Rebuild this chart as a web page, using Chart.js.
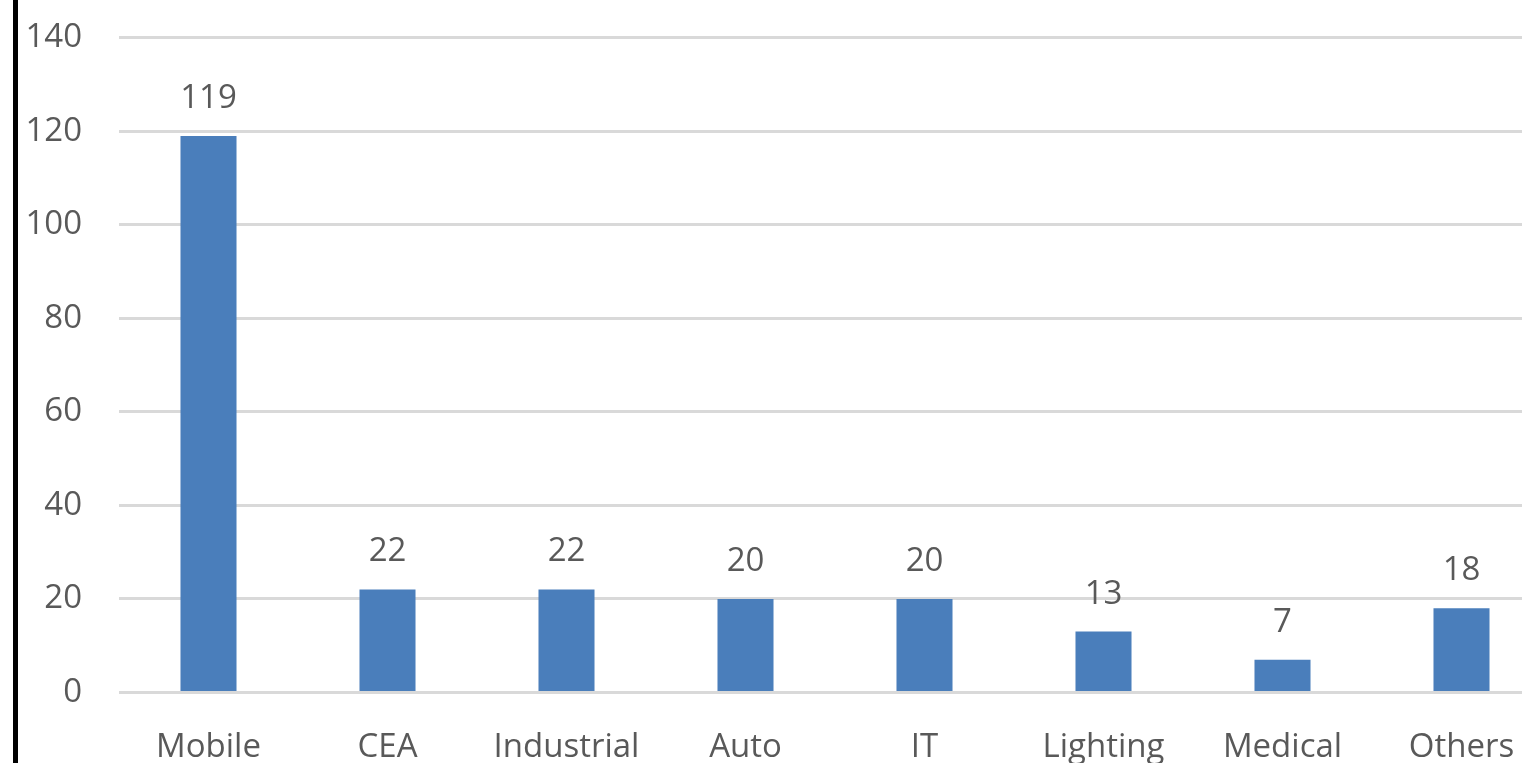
<!DOCTYPE html>
<html>
<head>
<meta charset="utf-8">
<title>Units by segment</title>
<script src="https://cdn.jsdelivr.net/npm/chart.js@4.4.0/dist/chart.umd.min.js"></script>
<style>
  html, body { margin: 0; padding: 0; background: #fff; }
  #wrap { position: relative; width: 1522px; height: 763px; overflow: hidden; }
  #chart { position: absolute; left: 0; top: -19px; }
  #edge { position: absolute; left: 13px; top: 0; width: 5px; height: 763px; background: #000; }
</style>
</head>
<body>
<div id="wrap">
  <canvas id="chart" width="1551" height="821"></canvas>
  <div id="edge"></div>
</div>
<script>
// segments and values
const segments = ["Mobile", "CEA", "Industrial", "Auto", "IT", "Lighting", "Medical", "Others"];
const units = [119, 22, 22, 20, 20, 13, 7, 18];
const yTicks = [0, 20, 40, 60, 80, 100, 120, 140];

const textGray = "#595959";
const fontFam = "'Open Sans', 'Noto Sans', sans-serif";

// writes the value over each bar
const valueLabels = {
  id: "valueLabels",
  afterDatasetsDraw(chart) {
    const ctx = chart.ctx;
    const meta = chart.getDatasetMeta(0);
    ctx.save();
    ctx.fillStyle = textGray;
    ctx.font = "33px " + fontFam;
    ctx.textAlign = "center";
    ctx.textBaseline = "bottom";
    meta.data.forEach(function(bar, i) {
      ctx.fillText(String(units[i]), bar.x, bar.y - 21);
    });
    ctx.restore();
  }
};

const ctx = document.getElementById("chart").getContext("2d");
new Chart(ctx, {
  type: "bar",
  data: {
    labels: segments,
    datasets: [{
      data: units,
      backgroundColor: "#4A7EBB",
      borderWidth: 0,
      categoryPercentage: 1,
      barPercentage: 0.313
    }]
  },
  options: {
    responsive: false,
    animation: false,
    layout: { padding: { top: 17, left: 0, right: 0, bottom: 0 } },
    plugins: {
      legend: { display: false },
      tooltip: { enabled: false }
    },
    scales: {
      x: {
        grid: { display: false, drawTicks: false },
        border: { display: false },
        ticks: {
          color: textGray,
          font: { family: fontFam, size: 33 },
          padding: 35,
          maxRotation: 0,
          autoSkip: false
        }
      },
      y: {
        min: 0,
        max: 140,
        afterBuildTicks(scale) {
          scale.ticks = yTicks.map(function(v) { return { value: v }; });
        },
        afterFit(scale) { scale.width = 119; },
        grid: { color: "#d9d9d9", lineWidth: 3, drawTicks: false },
        border: { display: false },
        ticks: {
          color: textGray,
          font: { family: fontFam, size: 33 },
          padding: 37
        }
      }
    }
  },
  plugins: [valueLabels]
});
</script>
</body>
</html>
